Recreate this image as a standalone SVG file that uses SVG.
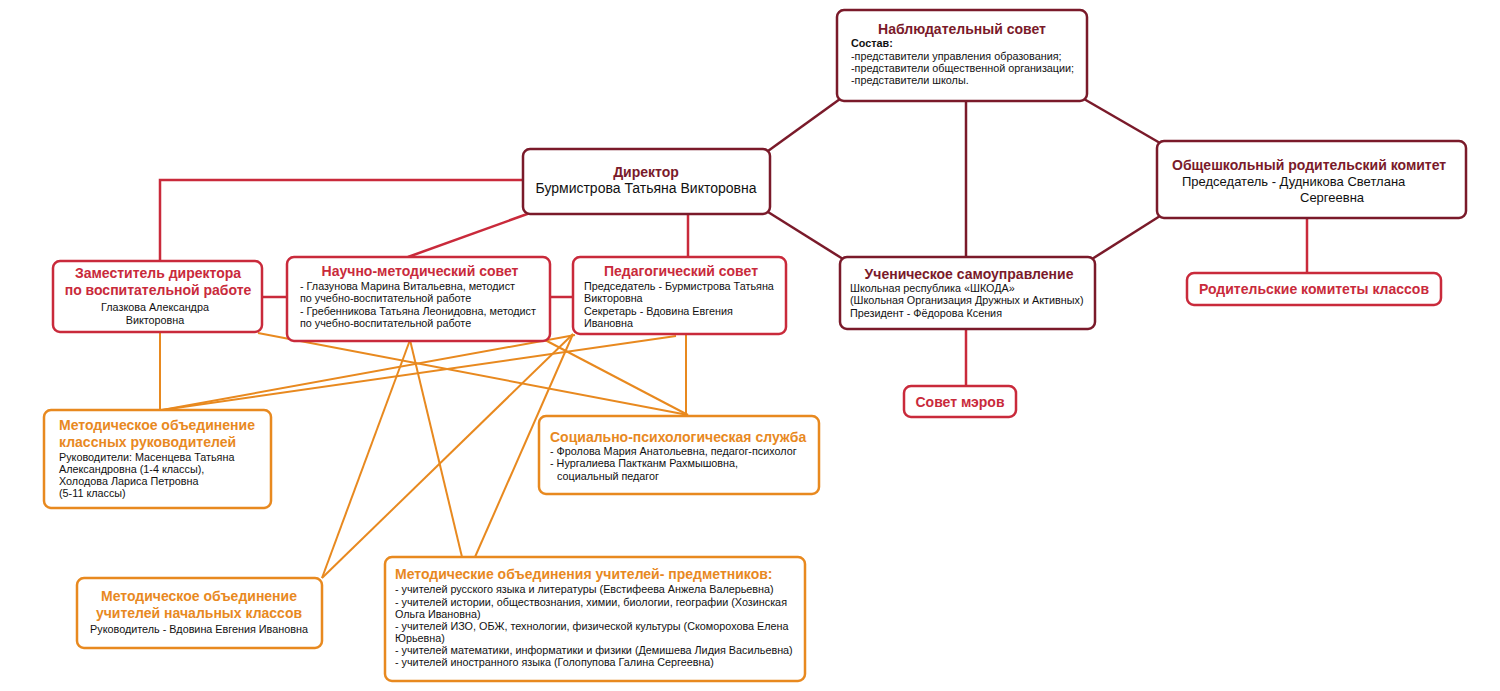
<svg xmlns="http://www.w3.org/2000/svg" width="1500" height="691" viewBox="0 0 1500 691">
<style>
text{font-family:"Liberation Sans",Arial,sans-serif;fill:#111}
.box{fill:#fff;stroke-width:2.5}
.dk{stroke:#7a1a2a}
.rd{stroke:#c92a3b}
.or{stroke:#e8891f}
.t{font-weight:bold;font-size:14px}
.tdk{fill:#7a1a2a}
.trd{fill:#c92a3b}
.tor{fill:#e8891f}
.b{font-size:10.8px}
.c{text-anchor:middle}
.ldk{stroke:#7a1a2a;stroke-width:2.5;fill:none}
.lrd{stroke:#c92a3b;stroke-width:2.5;fill:none}
.lor{stroke:#e8891f;stroke-width:2;fill:none}
</style>
<rect width="1500" height="691" fill="#fff"/>
<g id="connectors">
<line class="ldk" x1="840" y1="99" x2="768" y2="151"/>
<line class="ldk" x1="1084" y1="99" x2="1160" y2="143"/>
<line class="ldk" x1="768" y1="212" x2="843" y2="259"/>
<line class="ldk" x1="1160" y1="216" x2="1092" y2="259"/>
<line class="ldk" x1="966" y1="101" x2="966" y2="257"/>
<line class="lrd" x1="966" y1="329" x2="966" y2="386"/>
<line class="lrd" x1="1307" y1="218" x2="1307" y2="273"/>
<polyline class="lrd" points="523,180 160,180 160,261"/>
<line class="lrd" x1="688" y1="214" x2="688" y2="257"/>
<line class="lrd" x1="530" y1="213" x2="408" y2="257"/>
<line class="lrd" x1="262" y1="297" x2="287" y2="297"/>
<line class="lrd" x1="550" y1="297" x2="573" y2="297"/>
<line class="lor" x1="160" y1="332" x2="160" y2="410"/>
<line class="lor" x1="686" y1="334" x2="686" y2="416"/>
<line class="lor" x1="258" y1="333" x2="688" y2="415"/>
<line class="lor" x1="545" y1="340" x2="688" y2="415"/>
<line class="lor" x1="676" y1="336" x2="162" y2="410"/>
<line class="lor" x1="575" y1="335" x2="162" y2="410"/>
<line class="lor" x1="410" y1="340" x2="322" y2="578"/>
<line class="lor" x1="410" y1="340" x2="462" y2="557"/>
<line class="lor" x1="573" y1="334" x2="322" y2="578"/>
<line class="lor" x1="573" y1="334" x2="475" y2="557"/>
</g>
<g id="nabl">
<rect class="box dk" x="837" y="10" width="250" height="91" rx="7"/>
<text class="t tdk c" x="962" y="34">Наблюдательный совет</text>
<text class="b" x="851" y="47" font-weight="bold">Состав:</text>
<text class="b" x="851" y="60">-представители управления образования;</text>
<text class="b" x="851" y="72">-представители общественной организации;</text>
<text class="b" x="851" y="84">-представители школы.</text>
</g>
<g id="director">
<rect class="box dk" x="523" y="149" width="247" height="65" rx="7"/>
<text class="t tdk c" x="646" y="177">Директор</text>
<text class="c" x="646" y="193" font-size="14">Бурмистрова Татьяна Викторовна</text>
</g>
<g id="parents">
<rect class="box dk" x="1157" y="141" width="309" height="77" rx="7"/>
<text class="t tdk" x="1172" y="170">Общешкольный родительский комитет</text>
<text x="1182" y="186" font-size="13">Председатель - Дудникова Светлана</text>
<text x="1300" y="202" font-size="13">Сергеевна</text>
</g>
<g id="zam">
<rect class="box rd" x="53" y="261" width="209" height="71" rx="7"/>
<text class="t trd c" x="158" y="278">Заместитель директора</text>
<text class="t trd c" x="158" y="295">по воспитательной работе</text>
<text class="b c" x="155" y="311">Глазкова Александра</text>
<text class="b c" x="155" y="324">Викторовна</text>
</g>
<g id="nms">
<rect class="box rd" x="287" y="257" width="263" height="84" rx="7"/>
<text class="t trd c" x="420" y="276">Научно-методический совет</text>
<text class="b" x="300" y="290">- Глазунова Марина Витальевна, методист</text>
<text class="b" x="300" y="302">по учебно-воспитательной работе</text>
<text class="b" x="300" y="315">- Гребенникова Татьяна Леонидовна, методист</text>
<text class="b" x="300" y="327">по учебно-воспитательной работе</text>
</g>
<g id="ped">
<rect class="box rd" x="573" y="257" width="213" height="77" rx="7"/>
<text class="t trd c" x="681" y="276">Педагогический совет</text>
<text class="b" x="584" y="290">Председатель - Бурмистрова Татьяна</text>
<text class="b" x="584" y="302">Викторовна</text>
<text class="b" x="584" y="315">Секретарь - Вдовина Евгения</text>
<text class="b" x="584" y="327">Ивановна</text>
</g>
<g id="uchen">
<rect class="box dk" x="840" y="257" width="255" height="72" rx="7"/>
<text class="t tdk c" x="969" y="279">Ученическое самоуправление</text>
<text class="b" x="850" y="292">Школьная республика «ШКОДА»</text>
<text class="b" x="850" y="304">(Школьная Организация Дружных и Активных)</text>
<text class="b" x="850" y="317">Президент - Фёдорова Ксения</text>
</g>
<g id="rodkom">
<rect class="box rd" x="1187" y="273" width="254" height="32" rx="7"/>
<text class="t trd c" x="1314" y="294">Родительские комитеты классов</text>
</g>
<g id="mayors">
<rect class="box rd" x="904" y="386" width="112" height="31" rx="7"/>
<text class="t trd c" x="960" y="407">Совет мэров</text>
</g>
<g id="mo-klruk">
<rect class="box or" x="44" y="410" width="227" height="98" rx="7"/>
<text class="t tor" x="59" y="430">Методическое объединение</text>
<text class="t tor" x="59" y="447">классных руководителей</text>
<text class="b" x="59" y="461">Руководители: Масенцева Татьяна</text>
<text class="b" x="59" y="473">Александровна (1-4 классы),</text>
<text class="b" x="59" y="485">Холодова Лариса Петровна</text>
<text class="b" x="59" y="497">(5-11 классы)</text>
</g>
<g id="soc">
<rect class="box or" x="539" y="416" width="280" height="78" rx="7"/>
<text class="t tor" x="550" y="442">Социально-психологическая служба</text>
<text class="b" x="550" y="455">- Фролова Мария Анатольевна, педагог-психолог</text>
<text class="b" x="550" y="467">- Нургалиева Пактканм Рахмышовна,</text>
<text class="b" x="557" y="480">социальный педагог</text>
</g>
<g id="mo-nach">
<rect class="box or" x="77" y="578" width="245" height="70" rx="7"/>
<text class="t tor c" x="199" y="601">Методическое объединение</text>
<text class="t tor c" x="199" y="618">учителей начальных классов</text>
<text class="b c" x="199" y="633">Руководитель - Вдовина Евгения Ивановна</text>
</g>
<g id="mo-pred">
<rect class="box or" x="385" y="557" width="420" height="124" rx="7"/>
<text class="t tor" x="395" y="579">Методические объединения учителей- предметников:</text>
<text class="b" x="395" y="593">- учителей русского языка и литературы (Евстифеева Анжела Валерьевна)</text>
<text class="b" x="395" y="606">- учителей истории, обществознания, химии, биологии, географии (Хозинская</text>
<text class="b" x="395" y="618">Ольга Ивановна)</text>
<text class="b" x="395" y="630">- учителей ИЗО, ОБЖ, технологии, физической культуры (Скоморохова Елена</text>
<text class="b" x="395" y="642">Юрьевна)</text>
<text class="b" x="395" y="654">- учителей математики, информатики и физики (Демишева Лидия Васильевна)</text>
<text class="b" x="395" y="666">- учителей иностранного языка (Голопупова Галина Сергеевна)</text>
</g>
</svg>
